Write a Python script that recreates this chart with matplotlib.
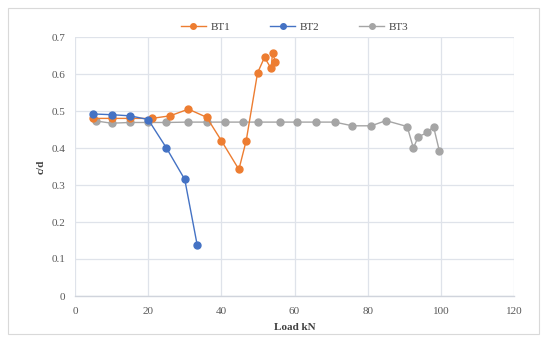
import matplotlib
matplotlib.use("Agg")
import matplotlib.pyplot as plt
from matplotlib.patches import Rectangle

bt1_x = [5, 10, 15, 21, 26, 31, 36, 40, 44.8, 46.8, 49.9, 51.8, 53.6, 54, 54.8]
bt1_y = [0.48, 0.48, 0.48, 0.48, 0.487, 0.505, 0.483, 0.42, 0.342, 0.42, 0.603, 0.645, 0.615, 0.657, 0.632]

bt2_x = [5, 10, 15, 20, 25, 30, 33.4]
bt2_y = [0.492, 0.49, 0.487, 0.477, 0.4, 0.315, 0.138]

bt3_x = [5.8, 10, 15, 20, 25, 31, 36, 41, 46, 50, 56, 60.8, 66, 71, 75.8, 81, 85, 90.8, 92.5, 93.8, 96.3, 98, 99.6]
bt3_y = [0.473, 0.467, 0.469, 0.469, 0.469, 0.47, 0.47, 0.47, 0.47, 0.47, 0.47, 0.47, 0.47, 0.47, 0.46, 0.46, 0.474, 0.458, 0.4, 0.43, 0.442, 0.458, 0.392]

x_ticks = [0, 20, 40, 60, 80, 100, 120]
y_ticks = [0, 0.1, 0.2, 0.3, 0.4, 0.5, 0.6, 0.7]
y_labels = ["0", "0.1", "0.2", "0.3", "0.4", "0.5", "0.6", "0.7"]

plt.rcParams['font.family'] = ['Liberation Serif', 'DejaVu Serif']

fig = plt.figure(figsize=(5.5, 3.43), dpi=100)
fig.patch.set_facecolor('white')
fig.patches.append(Rectangle((8/550, 1 - 334/343), (539-8)/550, (334-8)/343,
                             transform=fig.transFigure, fill=False,
                             edgecolor='#d9d9d9', linewidth=0.8))

ax = fig.add_axes([75/550, 1 - 296/343, (514-75)/550, (296-37)/343])

ms = 5
lw = 1.0
ax.plot(bt1_x, bt1_y, color='#ED7D31', marker='o', markersize=ms, linewidth=lw, label='BT1', zorder=3)
ax.plot(bt2_x, bt2_y, color='#4472C4', marker='o', markersize=ms, linewidth=lw, label='BT2', zorder=4)
ax.plot(bt3_x, bt3_y, color='#A5A5A5', marker='o', markersize=ms, linewidth=lw, label='BT3', zorder=2)

ax.set_xlim(0, 120)
ax.set_ylim(0, 0.7)
ax.set_xticks(x_ticks)
ax.set_yticks(y_ticks)
ax.set_yticklabels(y_labels)
ax.grid(True, color='#dfe3ea', linewidth=0.9)
ax.set_axisbelow(True)
for s in ['top', 'right', 'left']:
    ax.spines[s].set_visible(False)
ax.spines['bottom'].set_color('#d0d4dc')
ax.spines['bottom'].set_linewidth(1.0)
ax.tick_params(axis='x', length=0, labelsize=8, colors='#595959', pad=8)
ax.tick_params(axis='y', length=0, labelsize=8, colors='#595959', pad=7)

ax.set_xlabel('Load kN', fontsize=8, fontweight='bold', color='#404040', labelpad=5)
ax.set_ylabel('c/d', fontsize=8, fontweight='bold', color='#404040', labelpad=4)

leg = ax.legend(loc='center', bbox_to_anchor=(0.5, 1 + 10/259), ncol=3, frameon=False,
                fontsize=8, markerscale=0.8, handlelength=2.25, columnspacing=3.6,
                handletextpad=0.4, borderaxespad=0.0, borderpad=0.0)
for t in leg.get_texts():
    t.set_color('#404040')

fig.savefig('out.png', dpi=100, facecolor='white')
